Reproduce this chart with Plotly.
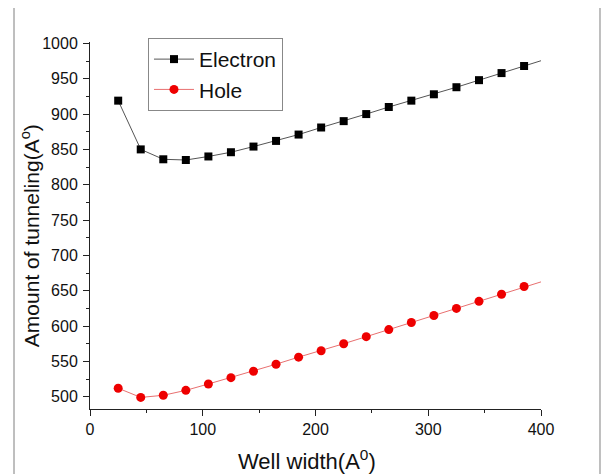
import plotly.graph_objects as go

well_width = [25, 45, 65, 85, 105, 125, 145, 165, 185, 205, 225, 245, 265, 285, 305, 325, 345, 365, 385, 405]
electron = [919, 850, 836, 835, 840, 846, 854, 862, 871, 881, 890, 900, 910, 919, 928, 938, 948, 958, 968, 978]
hole = [512, 499, 502, 509, 518, 527, 536, 546, 556, 565, 575, 585, 595, 605, 615, 625, 635, 645, 656, 665]

x_ticks = [0, 100, 200, 300, 400]
y_ticks = [500, 550, 600, 650, 700, 750, 800, 850, 900, 950, 1000]

FONT = "Liberation Sans, Arial, sans-serif"

fig = go.Figure()
fig.add_trace(go.Scatter(
    x=well_width, y=electron, name="Electron", mode="lines+markers",
    line=dict(color="#555555", width=1),
    marker=dict(symbol="square", size=8, color="#000000"),
    cliponaxis=True,
))
fig.add_trace(go.Scatter(
    x=well_width, y=hole, name="Hole", mode="lines+markers",
    line=dict(color="#e87070", width=1),
    marker=dict(symbol="circle", size=9, color="#ee0000"),
    cliponaxis=True,
))

fig.update_layout(
    width=606, height=466,
    margin=dict(l=82, r=73, t=34, b=65, autoexpand=False),
    paper_bgcolor="white", plot_bgcolor="white",
    font=dict(family=FONT, size=16, color="#111111"),
    showlegend=True,
    legend=dict(
        x=0.1286, y=1.011, xanchor="left", yanchor="top",
        bgcolor="white", bordercolor="#888888", borderwidth=1,
        font=dict(size=21, family=FONT, color="#111111"),
        tracegroupgap=0, itemwidth=40,
    ),
    xaxis=dict(
        range=[0, 400], tickvals=x_ticks, ticktext=[str(v) for v in x_ticks],
        showgrid=False, zeroline=False, showline=True, linecolor="#222222", linewidth=1,
        ticks="outside", ticklen=6, tickcolor="#222222",
        minor=dict(dtick=50, tick0=0, ticks="outside", ticklen=3, tickcolor="#222222", showgrid=False),
        tickfont=dict(size=16),
    ),
    yaxis=dict(
        range=[482.6, 1002], tickvals=y_ticks, ticktext=[str(v) for v in y_ticks],
        showgrid=False, zeroline=False, showline=True, linecolor="#222222", linewidth=1,
        ticks="outside", ticklen=6, tickcolor="#222222", ticklabelstandoff=2,
        minor=dict(dtick=25, tick0=0, ticks="outside", ticklen=3, tickcolor="#222222", showgrid=False),
        tickfont=dict(size=16),
    ),
    annotations=[
        dict(text="Well width(A<sup>0</sup>)", xref="paper", yref="paper",
             x=0.481, y=-0.139, xanchor="center", yanchor="middle", showarrow=False,
             font=dict(size=22, family=FONT, color="#111111")),
        dict(text="Amount of tunneling(A<sup>o</sup>)", xref="paper", yref="paper",
             x=-0.133, y=0.471, xanchor="center", yanchor="middle", showarrow=False,
             textangle=-90, font=dict(size=21, family=FONT, color="#111111")),
    ],
    shapes=[dict(
        type="rect", xref="paper", yref="paper",
        x0=-0.1685, x1=1.1308, y0=-0.2, y1=1.1027,
        line=dict(color="#aaaaaa", width=1.5), fillcolor="rgba(0,0,0,0)", layer="below",
    )],
)

fig.write_html("out.html")
